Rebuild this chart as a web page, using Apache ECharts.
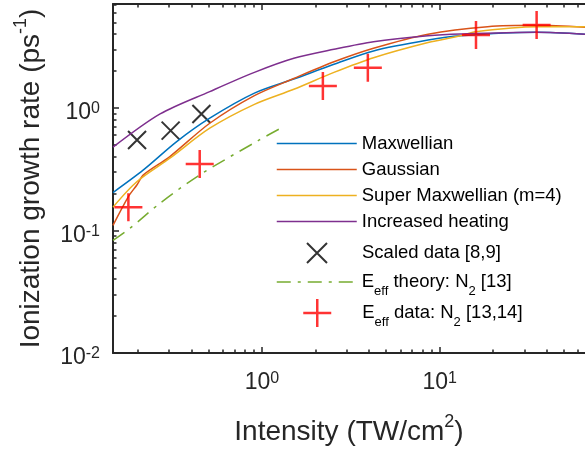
<!DOCTYPE html>
<html><head><meta charset="utf-8">
<script src="https://cdn.jsdelivr.net/npm/echarts@6/dist/echarts.min.js"></script>
<style>html,body{margin:0;padding:0;background:#fff}#c{width:585px;height:451px}</style>
</head><body><div id="c"></div>
<script>
// ---- tick values ----
const xMajorTicks = [1, 10];
const xMinorTicks = [0.2,0.3,0.4,0.5,0.6,0.7,0.8,0.9,2,3,4,5,6,7,8,9,20,30,40,50,60];
const yMajorTicks = [0.01, 0.1, 1];
const yMinorTicks = [0.02,0.03,0.04,0.05,0.06,0.07,0.08,0.09,0.2,0.3,0.4,0.5,0.6,0.7,0.8,0.9,2,3,4,5,6,7];
const xRange = [0.145, 65.7];
const yRange = [0.01, 7.05];

// ---- series data [intensity, rate] ----
const maxwellian = [[0.145,0.204],[0.215,0.312],[0.331,0.531],[0.508,0.824],[0.906,1.32],[1.51,1.72],[2.54,2.27],[4.24,2.92],[8.6,3.58],[13.1,3.88],[35,4.14],[66,4.0]];
const gaussian = [[0.145,0.110],[0.177,0.189],[0.198,0.236],[0.215,0.284],[0.303,0.401],[0.508,0.750],[0.906,1.26],[1.51,1.74],[2.54,2.38],[4.24,3.07],[8.6,4.0],[18.6,4.6],[35,4.72],[66,4.55]];
const superMaxwellian = [[0.145,0.155],[0.198,0.251],[0.303,0.389],[0.508,0.683],[0.906,1.07],[1.51,1.42],[2.54,1.95],[4.24,2.57],[8.6,3.42],[13.1,3.88],[15.9,4.19],[35,4.6],[66,4.6]];
const increasedHeating = [[0.145,0.478],[0.267,0.893],[0.508,1.36],[0.906,1.95],[1.51,2.54],[2.54,3.01],[4.24,3.47],[8.6,3.88],[13.1,4.01],[35,4.14],[66,4.0]];
const scaledData = [[0.198,0.548],[0.306,0.653],[0.456,0.893]];
const effTheory = [[0.145,0.083],[0.181,0.1045],[0.267,0.167],[0.446,0.284],[0.966,0.548],[1.33,0.706]];
const effData = [[0.177,0.155],[0.446,0.349],[2.2,1.51],[3.94,2.13],[16.0,3.94],[35.1,4.75]];

const names = ['Maxwellian','Gaussian','Super Maxwellian (m=4)','Increased heating','Scaled data [8,9]','E_eff theory: N_2 [13]','E_eff data: N_2 [13,14]'];
const colors = ['#0072BD','#D95319','#EDB120','#7E2F8E','#000000','#77AC30','#FF0000'];

const FONT = 'Liberation Sans, Arial, sans-serif';
const AX = '#262626';
const tickRich = {
  n: {fontSize: 23, lineHeight: 26, padding: [10,0,0,0], fontFamily: FONT, color: AX},
  s: {fontSize: 16, lineHeight: 16, padding: [6,0,0,0], verticalAlign: 'top', fontFamily: FONT, color: AX}
};
function powLabel(v) {
  const e = Math.round(Math.log10(v));
  return '{n|10}{s|' + e + '}';
}
const titleRich = {
  t: {fontSize: 28, lineHeight: 30, padding: [8,0,0,0], fontFamily: FONT, color: AX},
  s: {fontSize: 18, lineHeight: 18, verticalAlign: 'top', fontFamily: FONT, color: AX}
};
const legendRich = {
  n: {fontSize: 18.5, lineHeight: 20, fontFamily: FONT, color: '#000'},
  b: {fontSize: 13, lineHeight: 13, padding: [18,0,0,0], fontFamily: FONT, color: '#000'}
};
function legendFmt(name) {
  if (name === names[5]) return '{n|E}{b|eff}{n| theory: N}{b|2}{n| [13]}';
  if (name === names[6]) return '{n|E}{b|eff}{n| data: N}{b|2}{n| [13,14]}';
  return '{n|' + name + '}';
}

function xAxisDef(pos, ticks, len, withLine, withLabel) {
  return {
    type: 'log', position: pos, min: xRange[0], max: xRange[1],
    axisLine: {show: withLine, lineStyle: {color: AX, width: 2}},
    axisTick: {show: true, inside: true, length: len, customValues: ticks, lineStyle: {color: AX, width: 1.5}},
    axisLabel: withLabel ? {show: true, customValues: ticks, formatter: powLabel, rich: tickRich, margin: 12} : {show: false},
    splitLine: {show: false}, minorTick: {show: false}
  };
}
function yAxisDef(ticks, len, withLine, withLabel) {
  return {
    type: 'log', position: 'left', min: yRange[0], max: yRange[1],
    axisLine: {show: withLine, lineStyle: {color: AX, width: 2}},
    axisTick: {show: true, inside: true, length: len, customValues: ticks, lineStyle: {color: AX, width: 1.5}},
    axisLabel: withLabel ? {show: true, customValues: ticks, formatter: powLabel, rich: tickRich, margin: 13} : {show: false},
    splitLine: {show: false}, minorTick: {show: false}
  };
}

const xMain = xAxisDef('bottom', xMajorTicks, 6, true, true);
xMain.name = '{t|Intensity (TW/cm}{s|2}{t|)}';
xMain.nameLocation = 'middle';
xMain.nameGap = 60;
xMain.nameTextStyle = {rich: titleRich};
const yMain = yAxisDef(yMajorTicks, 6, true, true);
yMain.name = '{t|Ionization growth rate (ps}{s|-1}{t|)}';
yMain.nameLocation = 'middle';
yMain.nameGap = 71;
yMain.nameTextStyle = {rich: titleRich};

function lineSeries(i, data, extra) {
  return Object.assign({
    type: 'line', name: names[i], data: data, symbol: 'none', smooth: 0.3,
    lineStyle: {color: colors[i], width: 1.5}, itemStyle: {color: colors[i]},
    xAxisIndex: 0, yAxisIndex: 0, silent: true
  }, extra || {});
}

const noSymbol = {color: 'rgba(0,0,0,0)', borderWidth: 0};
const legendBase = {
  orient: 'vertical', left: 276, padding: 0, itemWidth: 80, itemGap: 7, selectedMode: false,
  formatter: legendFmt, textStyle: {rich: legendRich, fontFamily: FONT, fontSize: 18.5, color: '#000'},
  lineStyle: {width: 1.5}
};

const option = {
  animation: false,
  backgroundColor: '#fff',
  grid: {left: 113, right: -3, top: 4, bottom: 98, containLabel: false},
  xAxis: [
    xMain,
    xAxisDef('bottom', xMinorTicks, 3.5, false, false),
    xAxisDef('top', xMajorTicks, 6, true, false),
    xAxisDef('top', xMinorTicks, 3.5, false, false)
  ],
  yAxis: [
    yMain,
    yAxisDef(yMinorTicks, 3.5, false, false)
  ],
  legend: [
    Object.assign({}, legendBase, {top: 134, itemHeight: 20,
      data: names.slice(0,4).map(n => ({name: n, itemStyle: noSymbol}))}),
    Object.assign({}, legendBase, {left: 306, top: 242, itemHeight: 20, data: [names[4]]}),
    Object.assign({}, legendBase, {top: 266.5, itemHeight: 20, data: [{name: names[5], itemStyle: noSymbol}]}),
    Object.assign({}, legendBase, {left: 302, top: 297.5, itemHeight: 28, data: [names[6]], itemStyle: {borderWidth: 2.5}})
  ],
  series: [
    lineSeries(0, maxwellian),
    lineSeries(1, gaussian),
    lineSeries(2, superMaxwellian),
    lineSeries(3, increasedHeating),
    {
      type: 'scatter', name: names[4], data: scaledData, symbol: 'path://M0,0L10,10M10,0L0,10', symbolSize: 18,
      itemStyle: {color: 'rgba(0,0,0,0)', borderColor: colors[4], borderWidth: 2}, silent: true
    },
    lineSeries(5, effTheory, {smooth: 0.3, lineStyle: {color: colors[5], width: 1.5, type: [14,7,3,7]}}),
    {
      type: 'scatter', name: names[6], data: effData, symbol: 'path://M5,0L5,10M0,5L10,5', symbolSize: 28,
      itemStyle: {color: 'rgba(0,0,0,0)', borderColor: colors[6], borderWidth: 2.5}, silent: true, z: 5
    }
  ]
};
const chart = echarts.init(document.getElementById('c'), null, {renderer: 'canvas'});
chart.setOption(option);
</script></body></html>
